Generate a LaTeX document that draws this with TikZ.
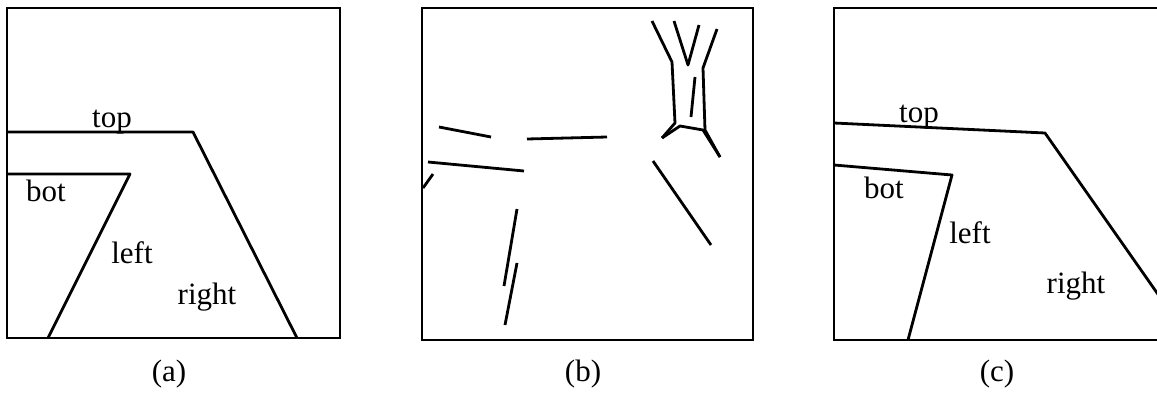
\documentclass[tikz,border=0pt]{standalone}
\usepackage{fontspec}
\setmainfont{Liberation Serif}
\usetikzlibrary{positioning}

\tikzset{
    edge/.style={line width=2.8pt, line join=round, black},
    lbl/.style={anchor=base, inner sep=0pt, font=\fontsize{31}{37}\selectfont},
}

\begin{document}
\begin{tikzpicture}[x=1pt, y=-1pt]
    \clip (0,0) rectangle (1157,394);

    % (a) region boundaries
    \draw[edge, line join=miter] (7,8) rectangle (340,338);
    \draw[edge] (7,132) -- (193,132) -- (297,338);
    \draw[edge] (7,174) -- (130,174) -- (48,338);
    \node[lbl] (atop) at (112,127) {top};
    \node[lbl] (abot) at (46,201) {bot};
    \node[lbl] (aleft) at (132,263) {left};
    \node[lbl] (aright) at (207,304) {right};
    \node[lbl] (acap) at (169,381) {(a)};

    % (b) edge segments
    \draw[edge, line join=miter] (422,8) rectangle (753,340);
    \draw[edge] (439,127) -- (491,137);
    \draw[edge] (527,139) -- (607,137);
    \draw[edge] (428,162) -- (524,171);
    \draw[edge] (433,174) -- (423,188);
    \draw[edge] (517,209) -- (504,286);
    \draw[edge] (517,263) -- (505,325);
    \draw[edge] (653,161) -- (711,245);
    \draw[edge] (652,21) -- (672,62) -- (675,123) -- (662,138);
    \draw[edge] (662,138) -- (680,126) -- (703,130) -- (720,157);
    \draw[edge] (717,29) -- (703,68) -- (705,130) -- (720,157);
    \draw[edge] (674,21) -- (688,65) -- (699,25);
    \draw[edge] (695,77) -- (691,117);
    \node[lbl] (bcap) at (583,381) {(b)};

    % (c) fitted regions
    \draw[edge, line join=miter] (834,8) rectangle (1200,340);
    \draw[edge] (834,123) -- (1045,133) -- (1190,340);
    \draw[edge] (834,165) -- (952,175) -- (908,340);
    \node[lbl] (ctop) at (919,122) {top};
    \node[lbl] (cbot) at (884,198) {bot};
    \node[lbl] (cleft) at (970,243) {left};
    \node[lbl] (cright) at (1076,293) {right};
    \node[lbl] (ccap) at (997,381) {(c)};
\end{tikzpicture}
\end{document}
